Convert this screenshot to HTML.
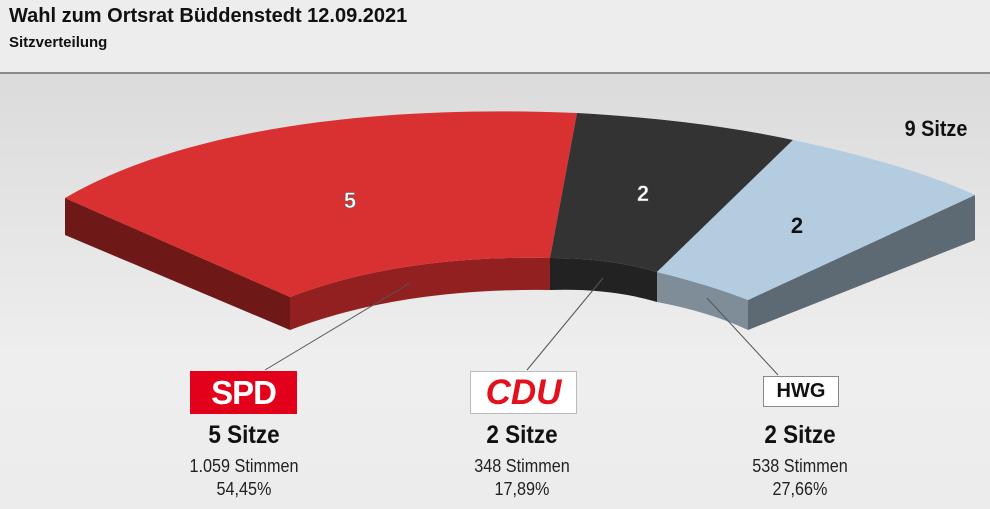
<!DOCTYPE html>
<html><head><meta charset="utf-8"><style>
body{margin:0;width:990px;height:509px;overflow:hidden;font-family:"Liberation Sans",Arial,sans-serif;position:relative;background:linear-gradient(#d6d6d6,#eeeeee 70%,#ececec);}
#hdr{position:absolute;left:0;top:0;width:990px;height:72px;background:#ededed;border-bottom:2px solid #8a8a8a;}
.t{position:absolute;white-space:nowrap;}
.c{text-align:center;width:200px;}
.n{transform:scaleX(0.9);}
</style></head><body>
<div id="hdr"></div>
<div class="t" style="left:9px;top:5px;font-size:20px;font-weight:bold;color:#111">Wahl zum Ortsrat Büddenstedt 12.09.2021</div>
<div class="t" style="left:9px;top:34px;font-size:15px;font-weight:bold;color:#111">Sitzverteilung</div>
<svg width="990" height="509" style="position:absolute;left:0;top:0">
<polygon points="65,198 290,297 290,330 65,235" fill="#6e1818"/>
<polygon points="975,195 748,300 748,330 975,240" fill="#5d6a74"/>
<path d="M290,297 Q400,255 550,258 L550,290 Q400,288 290,330Z" fill="#922020"/>
<path d="M550,258 Q610,258 657,272 L657,302 Q610,288 550,290Z" fill="#222"/>
<path d="M657,272 Q710,285 748,300 L748,330 Q710,312 657,302Z" fill="#7f8d98"/>
<path d="M65,198 C190,125 390,105 577,113 L550,258 Q400,255 290,297Z" fill="#d93131"/>
<path d="M577,113 Q700,120 793,140 L657,272 Q610,258 550,258Z" fill="#333"/>
<path d="M793,140 Q910,165 975,195 L748,300 Q710,285 657,272Z" fill="#b4cce0"/>
<g stroke="#555" stroke-width="1"><line x1="410" y1="283" x2="265" y2="370"/><line x1="603" y1="278" x2="527" y2="370"/><line x1="707" y1="298" x2="778" y2="375"/></g>
<g font-family="Liberation Sans,Arial,sans-serif" font-weight="bold" font-size="22" text-anchor="middle">
<text x="350" y="208" fill="#fff" stroke="#555" stroke-width="0.5">5</text>
<text x="643" y="201" fill="#fff" stroke="#555" stroke-width="0.5">2</text>
<text x="797" y="233" fill="#111">2</text>
<text x="936" y="136" fill="#111" transform="translate(936,0) scale(0.9,1) translate(-936,0)">9 Sitze</text>
</g>
</svg>
<div class="t" style="left:190px;top:371px;width:107px;height:43px;background:#e3001b;color:#fff;font-weight:bold;font-size:33px;text-align:center;line-height:43px;letter-spacing:-1px">SPD</div>
<div class="t" style="left:470px;top:371px;width:105px;height:41px;background:#fff;border:1px solid #bbb;color:#e3101e;font-weight:bold;font-style:italic;font-size:35px;text-align:center;line-height:41px">CDU</div>
<div class="t" style="left:763px;top:376px;width:74px;height:29px;background:#fff;border:1px solid #888;color:#111;font-weight:bold;font-size:20px;text-align:center;line-height:29px">HWG</div>
<div class="t c n" style="left:144px;top:421px;font-size:25px;font-weight:bold;color:#111">5 Sitze</div>
<div class="t c n" style="left:422px;top:421px;font-size:25px;font-weight:bold;color:#111">2 Sitze</div>
<div class="t c n" style="left:700px;top:421px;font-size:25px;font-weight:bold;color:#111">2 Sitze</div>
<div class="t c n" style="left:144px;top:455px;font-size:18px;color:#222;line-height:23px">1.059 Stimmen<br>54,45%</div>
<div class="t c n" style="left:422px;top:455px;font-size:18px;color:#222;line-height:23px">348 Stimmen<br>17,89%</div>
<div class="t c n" style="left:700px;top:455px;font-size:18px;color:#222;line-height:23px">538 Stimmen<br>27,66%</div>
</body></html>
